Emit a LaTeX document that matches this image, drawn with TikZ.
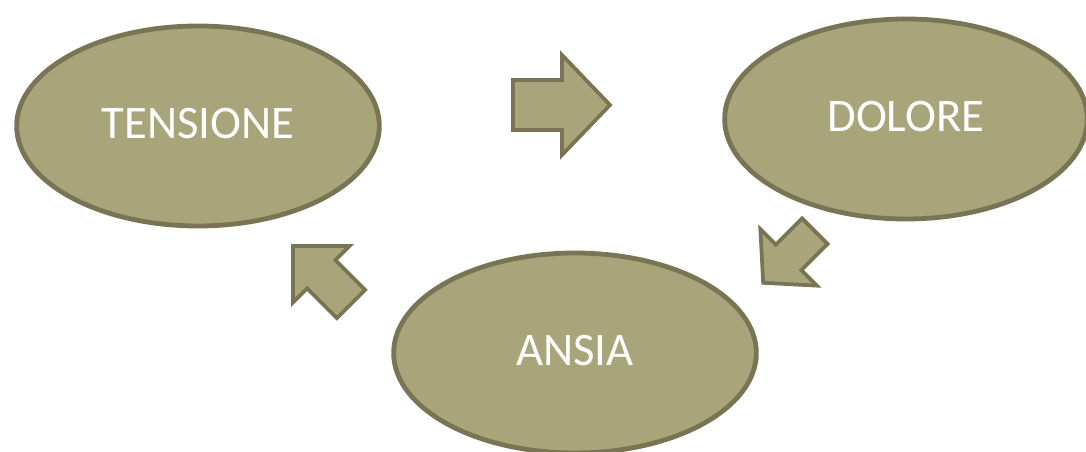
\documentclass[tikz,border=0pt]{standalone}
\usepackage{fontspec}
\setmainfont{Carlito}
\usepackage{tikz}
\usetikzlibrary{shapes.geometric}

\definecolor{olivefill}{RGB}{169,165,123}
\definecolor{oliveline}{RGB}{120,116,84}

\tikzset{
	stato/.style={ellipse, draw=oliveline, fill=olivefill, line width=3.6pt,
		minimum width=272pt, minimum height=150pt, inner sep=0pt, text depth=4pt,
		text=white, font=\fontsize{35}{35}\selectfont},
	freccia/.style={draw=oliveline, fill=olivefill, line width=2.8pt, line join=miter},
	% block arrow: half length, body half width, head half width, head length
	pics/fatarrow/.style n args={4}{code={
		\draw[freccia] (-#1,-#2) -- (#1-#4,-#2) -- (#1-#4,-#3) -- (#1,0)
			-- (#1-#4,#3) -- (#1-#4,#2) -- (-#1,#2) -- cycle;
	}}
}

\begin{document}
\begin{tikzpicture}[x=0.75pt, y=-0.75pt]
				\useasboundingbox (0,0) rectangle (1086,452);
				% the three states
				\node[stato](T) at (198,126){TENSIONE};
				\node[stato](D) at (906,119){DOLORE};
				\node[stato](A) at (575,353){ANSIA};
				% arrows between them
				\pic[rotate=0] at (561.5,105) {fatarrow={48.5}{25}{50}{48}};
				\pic[rotate=225] at (789,257) {fatarrow={36.5}{18}{40}{36}};
				\pic[rotate=135] at (322,275) {fatarrow={41}{20}{40}{40}};
			\end{tikzpicture}
\end{document}
